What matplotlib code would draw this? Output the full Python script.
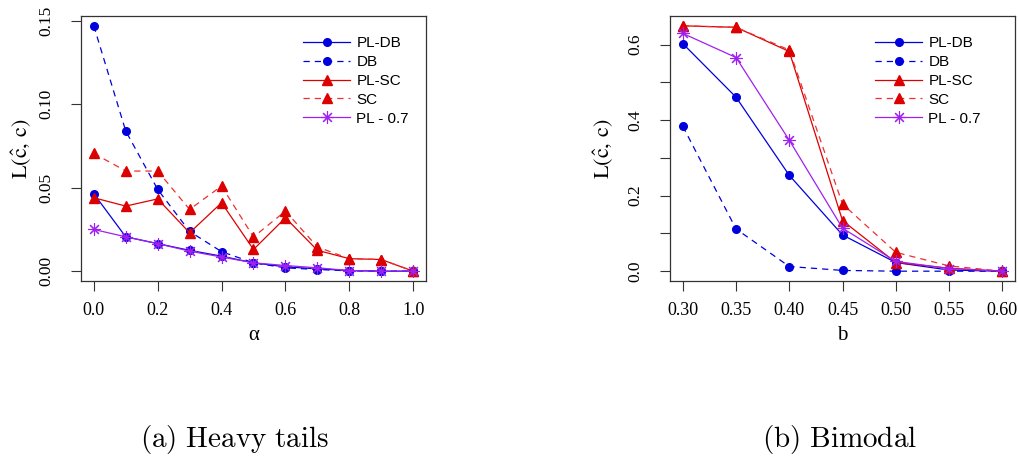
import numpy as np
import matplotlib.pyplot as plt

# 数据
alpha = [0.0, 0.1, 0.2, 0.3, 0.4, 0.5, 0.6, 0.7, 0.8, 0.9, 1.0]
ht_pl_db = [0.0464, 0.0206, 0.0165, 0.0125, 0.0090, 0.0050, 0.0026, 0.0014, 0.0004, 0.0, 0.0]
ht_db = [0.147, 0.084, 0.049, 0.0238, 0.0117, 0.0050, 0.0020, 0.0010, 0.0002, 0.0, 0.0]
ht_pl_sc = [0.044, 0.039, 0.0433, 0.023, 0.041, 0.013, 0.032, 0.0125, 0.0075, 0.007, 0.0]
ht_sc = [0.0706, 0.060, 0.060, 0.037, 0.051, 0.0205, 0.036, 0.0145, 0.0075, 0.007, 0.0]
ht_pl_07 = [0.025, 0.0206, 0.0165, 0.012, 0.0085, 0.0050, 0.0034, 0.0020, 0.0004, 0.0, 0.0]

b = [0.30, 0.35, 0.40, 0.45, 0.50, 0.55, 0.60]
bm_pl_db = [0.603, 0.461, 0.254, 0.096, 0.023, 0.003, 0.0]
bm_db = [0.384, 0.112, 0.0124, 0.002, 0.0, 0.0, 0.0]
bm_pl_sc = [0.650, 0.646, 0.582, 0.134, 0.023, 0.008, 0.0]
bm_sc = [0.650, 0.646, 0.586, 0.178, 0.050, 0.014, 0.0]
bm_pl_07 = [0.630, 0.566, 0.347, 0.114, 0.026, 0.007, 0.0]

labels = ['PL-DB', 'DB', 'PL-SC', 'SC', 'PL - 0.7']

blue = '#0000dd'
red = '#dd0000'
purple = '#a020f0'
dash = (0, (5, 4))
styles = [
    dict(color=blue, ls='-', marker='o', ms=5.5),
    dict(color=blue, ls=dash, marker='o', ms=5.5),
    dict(color=red, ls='-', marker='^', ms=6.5),
    dict(color='#ee3030', ls=dash, marker='^', ms=6.5, mfc=red, mec=red),
    dict(color=purple, ls='-', marker=(8, 2, 0), ms=9, mew=0.8),
]

fig = plt.figure(figsize=(10.2, 4.59), dpi=100)
ax1 = fig.add_axes([81 / 1020, 1 - 281 / 459, 345 / 1020, 265 / 459])
ax2 = fig.add_axes([670 / 1020, 1 - 281 / 459, 345 / 1020, 265 / 459])

serif = 'Liberation Serif'
sans = 'Liberation Sans'
grey = '#333333'


def draw(ax, x, ys, xticks, xfmt, yticks, ylabels, xlabel, lx, ly, label_x):
    for y, st in zip(ys, styles):
        ax.plot(x, y, lw=0.9, **st)
    span = x[-1] - x[0]
    ax.set_xlim(x[0] - 0.04 * span, x[-1] + 0.04 * span)
    ymax = max(max(y) for y in ys)
    ax.set_ylim(-0.04 * ymax, 1.04 * ymax)
    ax.set_xticks(xticks)
    ax.set_xticklabels([xfmt.format(v) for v in xticks], family=serif, fontsize=13)
    ax.set_yticks(yticks)
    ax.set_yticklabels(ylabels, family=serif, fontsize=12.5, rotation=90, va='center')
    ax.tick_params(axis='x', length=7, width=0.8, color=grey, pad=8)
    ax.tick_params(axis='y', length=7, width=0.8, color=grey, pad=12)
    for s in ax.spines.values():
        s.set_color(grey)
        s.set_linewidth(0.9)
    ax.set_xlabel(xlabel, family=serif, fontsize=15, labelpad=5)
    ax.set_ylabel(r'$\mathrm{L}(\hat{\mathrm{c}},\,\mathrm{c})$', fontsize=16, math_fontfamily='stix')
    ax.yaxis.set_label_coords(label_x, 0.5)
    ax.legend(labels, loc='upper left', bbox_to_anchor=(lx, ly), frameon=False,
              prop=dict(family=sans, size=11), handlelength=3.1, handletextpad=0.4,
              labelspacing=0.32, borderpad=0, borderaxespad=0)


draw(ax1, alpha, [ht_pl_db, ht_db, ht_pl_sc, ht_sc, ht_pl_07],
     [0.0, 0.2, 0.4, 0.6, 0.8, 1.0], '{:.1f}',
     [0.0, 0.05, 0.10, 0.15], ['0.00', '0.05', '0.10', '0.15'],
     'α', 0.643, 0.924, -0.139)
draw(ax2, b, [bm_pl_db, bm_db, bm_pl_sc, bm_sc, bm_pl_07],
     b, '{:.2f}',
     [0.0, 0.1, 0.2, 0.3, 0.4, 0.5, 0.6], ['0.0', '', '0.2', '', '0.4', '', '0.6'],
     'b', 0.594, 0.924, -0.16)

fig.text(234 / 1020, 1 - 440 / 459, r'$\mathrm{(a)\ Heavy\ tails}$', ha='center', va='center',
         fontsize=21, math_fontfamily='cm')
fig.text(840 / 1020, 1 - 440 / 459, r'$\mathrm{(b)\ Bimodal}$', ha='center', va='center',
         fontsize=21, math_fontfamily='cm')

fig.savefig('out.png', dpi=100)
